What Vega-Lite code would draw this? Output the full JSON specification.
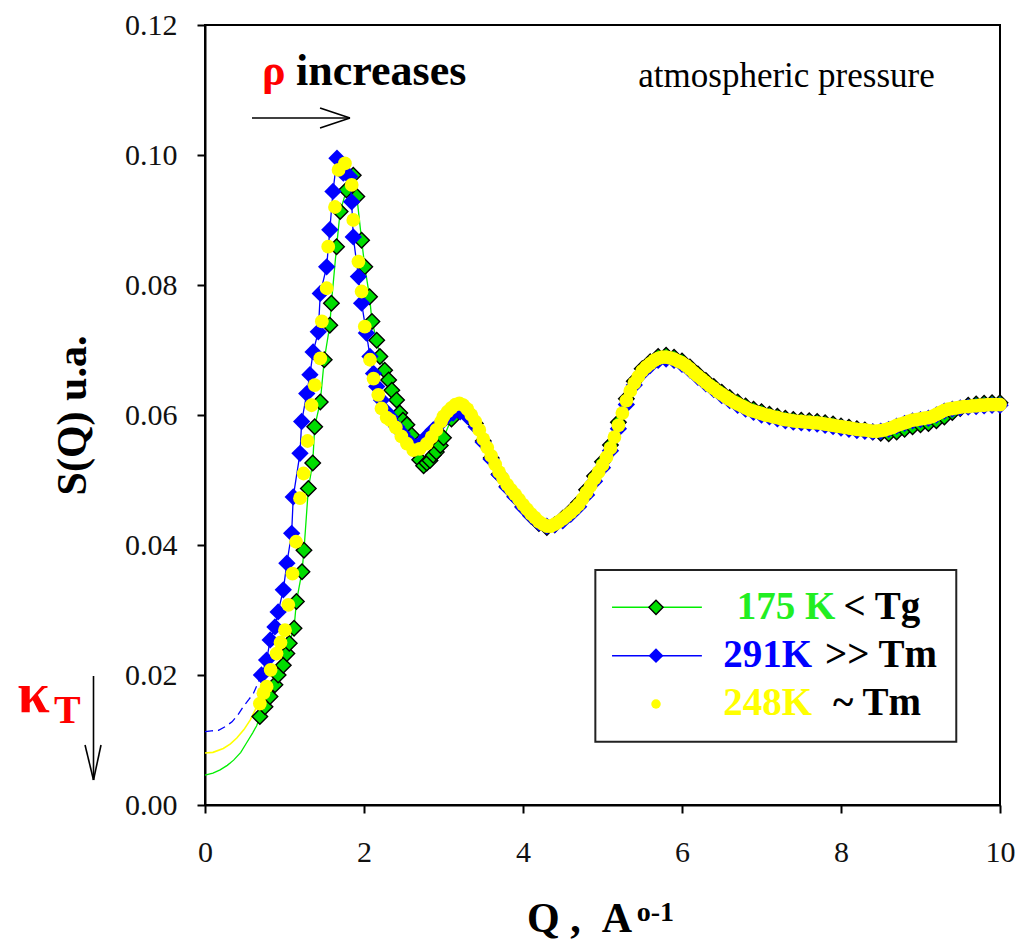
{
"$schema":"https://vega.github.io/schema/vega-lite/v6.json",
"width":795,"height":780,
"autosize":{"type":"none"},
"padding":{"left":205,"top":25,"right":17,"bottom":137},
"background":"white",
"config":{"view":{"stroke":"#000","strokeWidth":2},"text":{"font":"Liberation Serif"}},
"datasets":{
"ge":[{"q":0,"v":0.0046},{"q":0.1,"v":0.0049},{"q":0.19,"v":0.0054},{"q":0.28,"v":0.0061},{"q":0.36,"v":0.0069},{"q":0.45,"v":0.0081},{"q":0.52,"v":0.0095},{"q":0.6,"v":0.0111},{"q":0.65,"v":0.0122},{"q":0.69,"v":0.0136}],
"ye":[{"q":0,"v":0.008},{"q":0.1,"v":0.0081},{"q":0.23,"v":0.0087},{"q":0.32,"v":0.0094},{"q":0.4,"v":0.0103},{"q":0.49,"v":0.0116},{"q":0.57,"v":0.0131},{"q":0.65,"v":0.0151},{"q":0.69,"v":0.0156}],
"be":[{"q":0,"v":0.0113},{"q":0.08,"v":0.0114},{"q":0.17,"v":0.0115},{"q":0.26,"v":0.0121},{"q":0.34,"v":0.0128},{"q":0.41,"v":0.0138},{"q":0.48,"v":0.0151},{"q":0.55,"v":0.0162},{"q":0.61,"v":0.0172},{"q":0.71,"v":0.02}],
"g":[{"q":0.69,"v":0.0136},{"q":0.755,"v":0.0151},{"q":0.818,"v":0.0167},{"q":0.88,"v":0.0185},{"q":0.92,"v":0.02},{"q":0.985,"v":0.0215},{"q":1.03,"v":0.0233},{"q":1.06,"v":0.0249},{"q":1.12,"v":0.0272},{"q":1.15,"v":0.0313},{"q":1.22,"v":0.0359},{"q":1.245,"v":0.0392},{"q":1.3,"v":0.0487},{"q":1.355,"v":0.0526},{"q":1.38,"v":0.0582},{"q":1.45,"v":0.062},{"q":1.5,"v":0.0685},{"q":1.57,"v":0.0738},{"q":1.59,"v":0.0772},{"q":1.655,"v":0.0859},{"q":1.7,"v":0.0913},{"q":1.78,"v":0.0946},{"q":1.865,"v":0.0969},{"q":1.91,"v":0.0936},{"q":1.97,"v":0.0869},{"q":2.01,"v":0.0828},{"q":2.07,"v":0.0782},{"q":2.1,"v":0.0744},{"q":2.16,"v":0.0715},{"q":2.2,"v":0.069},{"q":2.26,"v":0.0669},{"q":2.31,"v":0.0654},{"q":2.35,"v":0.0638},{"q":2.41,"v":0.0623},{"q":2.45,"v":0.0603},{"q":2.49,"v":0.0592},{"q":2.54,"v":0.0585},{"q":2.6,"v":0.0569},{"q":2.65,"v":0.0545},{"q":2.7,"v":0.0531},{"q":2.75,"v":0.0522},{"q":2.79,"v":0.0526},{"q":2.83,"v":0.053},{"q":2.87,"v":0.0538},{"q":2.91,"v":0.0543},{"q":2.96,"v":0.0553},{"q":3.0,"v":0.0565},{"q":3.1,"v":0.0594},{"q":3.2,"v":0.0612},{"q":3.3,"v":0.0606},{"q":3.4,"v":0.0587},{"q":3.5,"v":0.056},{"q":3.6,"v":0.0534},{"q":3.7,"v":0.0509},{"q":3.8,"v":0.049},{"q":3.9,"v":0.0475},{"q":4.0,"v":0.0459},{"q":4.1,"v":0.0445},{"q":4.2,"v":0.0433},{"q":4.3,"v":0.0427},{"q":4.4,"v":0.0431},{"q":4.5,"v":0.0441},{"q":4.6,"v":0.0452},{"q":4.7,"v":0.0465},{"q":4.8,"v":0.0485},{"q":4.9,"v":0.0506},{"q":5.0,"v":0.0528},{"q":5.1,"v":0.0554},{"q":5.2,"v":0.0589},{"q":5.3,"v":0.0625},{"q":5.4,"v":0.0652},{"q":5.5,"v":0.0671},{"q":5.6,"v":0.0682},{"q":5.7,"v":0.069},{"q":5.8,"v":0.0692},{"q":5.9,"v":0.0689},{"q":6.0,"v":0.0683},{"q":6.1,"v":0.0674},{"q":6.2,"v":0.0663},{"q":6.3,"v":0.0653},{"q":6.4,"v":0.0644},{"q":6.5,"v":0.0635},{"q":6.6,"v":0.0627},{"q":6.7,"v":0.062},{"q":6.8,"v":0.0614},{"q":6.9,"v":0.0609},{"q":7.0,"v":0.0605},{"q":7.1,"v":0.0601},{"q":7.2,"v":0.0598},{"q":7.3,"v":0.0595},{"q":7.4,"v":0.0593},{"q":7.5,"v":0.0592},{"q":7.6,"v":0.0591},{"q":7.7,"v":0.059},{"q":7.8,"v":0.0588},{"q":7.9,"v":0.0586},{"q":8.0,"v":0.0583},{"q":8.1,"v":0.0581},{"q":8.2,"v":0.0579},{"q":8.3,"v":0.0577},{"q":8.4,"v":0.0574},{"q":8.5,"v":0.0572},{"q":8.6,"v":0.0571},{"q":8.7,"v":0.0574},{"q":8.8,"v":0.0578},{"q":8.9,"v":0.0582},{"q":9.0,"v":0.0585},{"q":9.1,"v":0.0587},{"q":9.2,"v":0.0591},{"q":9.3,"v":0.0597},{"q":9.4,"v":0.0604},{"q":9.5,"v":0.061},{"q":9.6,"v":0.0615},{"q":9.7,"v":0.0617},{"q":9.8,"v":0.0618},{"q":9.9,"v":0.0619},{"q":10.0,"v":0.0619}],
"b":[{"q":0.71,"v":0.02},{"q":0.775,"v":0.0223},{"q":0.82,"v":0.0254},{"q":0.88,"v":0.0274},{"q":0.92,"v":0.0297},{"q":0.985,"v":0.0331},{"q":1.03,"v":0.0372},{"q":1.09,"v":0.0418},{"q":1.11,"v":0.0474},{"q":1.195,"v":0.0541},{"q":1.216,"v":0.059},{"q":1.28,"v":0.0633},{"q":1.32,"v":0.0662},{"q":1.36,"v":0.0697},{"q":1.425,"v":0.0728},{"q":1.45,"v":0.0787},{"q":1.53,"v":0.0828},{"q":1.57,"v":0.0885},{"q":1.61,"v":0.0944},{"q":1.66,"v":0.0995},{"q":1.74,"v":0.0972},{"q":1.82,"v":0.0967},{"q":1.845,"v":0.0928},{"q":1.865,"v":0.0874},{"q":1.93,"v":0.0813},{"q":1.97,"v":0.0772},{"q":2.03,"v":0.0726},{"q":2.075,"v":0.069},{"q":2.12,"v":0.0664},{"q":2.16,"v":0.0644},{"q":2.22,"v":0.0623},{"q":2.28,"v":0.0605},{"q":2.33,"v":0.0597},{"q":2.41,"v":0.0582},{"q":2.48,"v":0.0572},{"q":2.54,"v":0.0562},{"q":2.6,"v":0.0555},{"q":2.66,"v":0.0551},{"q":2.72,"v":0.0557},{"q":2.79,"v":0.0567},{"q":2.87,"v":0.0577},{"q":2.96,"v":0.0587},{"q":3.04,"v":0.0597},{"q":3.12,"v":0.0603},{"q":3.21,"v":0.0605},{"q":3.3,"v":0.0598},{"q":3.41,"v":0.0582},{"q":3.5,"v":0.0558},{"q":3.6,"v":0.0532},{"q":3.7,"v":0.0508},{"q":3.8,"v":0.0489},{"q":3.9,"v":0.0474},{"q":4.0,"v":0.0458},{"q":4.1,"v":0.0445},{"q":4.2,"v":0.0434},{"q":4.3,"v":0.0429},{"q":4.4,"v":0.0431},{"q":4.5,"v":0.0437},{"q":4.6,"v":0.0447},{"q":4.7,"v":0.0459},{"q":4.8,"v":0.0477},{"q":4.9,"v":0.0498},{"q":5.0,"v":0.0519},{"q":5.1,"v":0.0545},{"q":5.2,"v":0.0579},{"q":5.3,"v":0.0616},{"q":5.4,"v":0.0646},{"q":5.5,"v":0.0665},{"q":5.6,"v":0.0676},{"q":5.7,"v":0.0684},{"q":5.8,"v":0.0686},{"q":5.9,"v":0.0684},{"q":6.0,"v":0.0678},{"q":6.1,"v":0.0669},{"q":6.2,"v":0.0658},{"q":6.3,"v":0.0648},{"q":6.4,"v":0.0639},{"q":6.5,"v":0.063},{"q":6.6,"v":0.0622},{"q":6.7,"v":0.0615},{"q":6.8,"v":0.0609},{"q":6.9,"v":0.0604},{"q":7.0,"v":0.06},{"q":7.1,"v":0.0597},{"q":7.2,"v":0.0594},{"q":7.3,"v":0.0591},{"q":7.4,"v":0.0589},{"q":7.5,"v":0.0588},{"q":7.6,"v":0.0587},{"q":7.7,"v":0.0586},{"q":7.8,"v":0.0584},{"q":7.9,"v":0.0582},{"q":8.0,"v":0.058},{"q":8.1,"v":0.0578},{"q":8.2,"v":0.0576},{"q":8.3,"v":0.0575},{"q":8.4,"v":0.0574},{"q":8.5,"v":0.0575},{"q":8.6,"v":0.0578},{"q":8.7,"v":0.0583},{"q":8.8,"v":0.0587},{"q":8.9,"v":0.0591},{"q":9.0,"v":0.0593},{"q":9.1,"v":0.0595},{"q":9.2,"v":0.06},{"q":9.3,"v":0.0606},{"q":9.4,"v":0.0609},{"q":9.5,"v":0.0611},{"q":9.6,"v":0.0612},{"q":9.7,"v":0.0613},{"q":9.8,"v":0.0614},{"q":9.9,"v":0.0615},{"q":10.0,"v":0.0615}],
"y":[{"q":0.69,"v":0.0156},{"q":0.735,"v":0.0172},{"q":0.775,"v":0.0182},{"q":0.826,"v":0.0208},{"q":0.9,"v":0.0233},{"q":0.95,"v":0.025},{"q":1.006,"v":0.0269},{"q":1.048,"v":0.0308},{"q":1.1,"v":0.0356},{"q":1.145,"v":0.0405},{"q":1.195,"v":0.0472},{"q":1.24,"v":0.051},{"q":1.29,"v":0.056},{"q":1.34,"v":0.0615},{"q":1.38,"v":0.0646},{"q":1.45,"v":0.0687},{"q":1.47,"v":0.0744},{"q":1.53,"v":0.0795},{"q":1.55,"v":0.0859},{"q":1.635,"v":0.092},{"q":1.68,"v":0.0977},{"q":1.76,"v":0.0987},{"q":1.845,"v":0.0954},{"q":1.865,"v":0.09},{"q":1.93,"v":0.0836},{"q":1.97,"v":0.079},{"q":2.01,"v":0.0736},{"q":2.075,"v":0.0685},{"q":2.12,"v":0.0656},{"q":2.18,"v":0.0631},{"q":2.22,"v":0.061},{"q":2.285,"v":0.0596},{"q":2.33,"v":0.0592},{"q":2.4,"v":0.0581},{"q":2.47,"v":0.0567},{"q":2.54,"v":0.0556},{"q":2.62,"v":0.0546},{"q":2.7,"v":0.0548},{"q":2.79,"v":0.0556},{"q":2.85,"v":0.0566},{"q":2.91,"v":0.0577},{"q":2.97,"v":0.059},{"q":3.0,"v":0.0598},{"q":3.05,"v":0.0605},{"q":3.1,"v":0.0611},{"q":3.15,"v":0.0616},{"q":3.2,"v":0.0618},{"q":3.25,"v":0.0615},{"q":3.3,"v":0.0609},{"q":3.35,"v":0.06},{"q":3.4,"v":0.059},{"q":3.45,"v":0.0577},{"q":3.5,"v":0.0563},{"q":3.55,"v":0.055},{"q":3.6,"v":0.0537},{"q":3.65,"v":0.0524},{"q":3.7,"v":0.0512},{"q":3.75,"v":0.0502},{"q":3.8,"v":0.0493},{"q":3.85,"v":0.0485},{"q":3.9,"v":0.0478},{"q":3.95,"v":0.047},{"q":4.0,"v":0.0462},{"q":4.05,"v":0.0455},{"q":4.1,"v":0.0448},{"q":4.15,"v":0.0442},{"q":4.2,"v":0.0436},{"q":4.25,"v":0.0432},{"q":4.3,"v":0.0429},{"q":4.35,"v":0.0429},{"q":4.4,"v":0.0432},{"q":4.45,"v":0.0436},{"q":4.5,"v":0.044},{"q":4.55,"v":0.0445},{"q":4.6,"v":0.045},{"q":4.65,"v":0.0456},{"q":4.7,"v":0.0462},{"q":4.75,"v":0.0471},{"q":4.8,"v":0.0481},{"q":4.85,"v":0.0491},{"q":4.9,"v":0.0502},{"q":4.95,"v":0.0512},{"q":5.0,"v":0.0523},{"q":5.05,"v":0.0535},{"q":5.1,"v":0.0549},{"q":5.15,"v":0.0566},{"q":5.2,"v":0.0584},{"q":5.25,"v":0.0603},{"q":5.3,"v":0.0622},{"q":5.35,"v":0.0637},{"q":5.4,"v":0.0649},{"q":5.45,"v":0.0659},{"q":5.5,"v":0.0668},{"q":5.55,"v":0.0674},{"q":5.6,"v":0.0679},{"q":5.65,"v":0.0684},{"q":5.7,"v":0.0687},{"q":5.75,"v":0.0689},{"q":5.8,"v":0.0689},{"q":5.85,"v":0.0688},{"q":5.9,"v":0.0686},{"q":5.95,"v":0.0683},{"q":6.0,"v":0.068},{"q":6.05,"v":0.0676},{"q":6.1,"v":0.0671},{"q":6.15,"v":0.0665},{"q":6.2,"v":0.066},{"q":6.25,"v":0.0655},{"q":6.3,"v":0.065},{"q":6.35,"v":0.0645},{"q":6.4,"v":0.0641},{"q":6.45,"v":0.0636},{"q":6.5,"v":0.0632},{"q":6.55,"v":0.0628},{"q":6.6,"v":0.0624},{"q":6.65,"v":0.062},{"q":6.7,"v":0.0617},{"q":6.75,"v":0.0614},{"q":6.8,"v":0.0611},{"q":6.85,"v":0.0608},{"q":6.9,"v":0.0606},{"q":6.95,"v":0.0604},{"q":7.0,"v":0.0602},{"q":7.05,"v":0.06},{"q":7.1,"v":0.0599},{"q":7.15,"v":0.0597},{"q":7.2,"v":0.0596},{"q":7.25,"v":0.0594},{"q":7.3,"v":0.0593},{"q":7.35,"v":0.0592},{"q":7.4,"v":0.0591},{"q":7.45,"v":0.059},{"q":7.5,"v":0.059},{"q":7.55,"v":0.0589},{"q":7.6,"v":0.0589},{"q":7.65,"v":0.0588},{"q":7.7,"v":0.0588},{"q":7.75,"v":0.0587},{"q":7.8,"v":0.0586},{"q":7.85,"v":0.0585},{"q":7.9,"v":0.0584},{"q":7.95,"v":0.0583},{"q":8.0,"v":0.0582},{"q":8.05,"v":0.0581},{"q":8.1,"v":0.058},{"q":8.15,"v":0.0579},{"q":8.2,"v":0.0578},{"q":8.25,"v":0.0577},{"q":8.3,"v":0.0577},{"q":8.35,"v":0.0576},{"q":8.4,"v":0.0575},{"q":8.45,"v":0.0575},{"q":8.5,"v":0.0576},{"q":8.55,"v":0.0577},{"q":8.6,"v":0.0579},{"q":8.65,"v":0.0581},{"q":8.7,"v":0.0584},{"q":8.75,"v":0.0586},{"q":8.8,"v":0.0588},{"q":8.85,"v":0.059},{"q":8.9,"v":0.0592},{"q":8.95,"v":0.0593},{"q":9.0,"v":0.0594},{"q":9.05,"v":0.0595},{"q":9.1,"v":0.0596},{"q":9.15,"v":0.0598},{"q":9.2,"v":0.0601},{"q":9.25,"v":0.0604},{"q":9.3,"v":0.0607},{"q":9.35,"v":0.0609},{"q":9.4,"v":0.061},{"q":9.45,"v":0.0611},{"q":9.5,"v":0.0612},{"q":9.55,"v":0.0613},{"q":9.6,"v":0.0613},{"q":9.65,"v":0.0614},{"q":9.7,"v":0.0614},{"q":9.75,"v":0.0615},{"q":9.8,"v":0.0615},{"q":9.85,"v":0.0616},{"q":9.9,"v":0.0616},{"q":9.95,"v":0.0616},{"q":10.0,"v":0.0616}]
},
"encoding":{
"x":{"field":"q","type":"quantitative","scale":{"domain":[0,10],"nice":false,"zero":false},
"axis":{"values":[0,2,4,6,8,10],"title":null,"grid":false,"domainColor":"#000","domainWidth":2,"tickColor":"#000","tickWidth":2,"tickSize":8,"labelFont":"Liberation Serif","labelFontSize":30,"labelColor":"#111","labelPadding":24,"labelFlush":false}},
"y":{"field":"v","type":"quantitative","scale":{"domain":[0,0.12],"nice":false,"zero":false},
"axis":{"values":[0,0.02,0.04,0.06,0.08,0.1,0.12],"format":".2f","grid":false,"domainColor":"#000","domainWidth":2,"tickColor":"#000","tickWidth":2,"tickSize":8,"labelFont":"Liberation Serif","labelFontSize":30,"labelColor":"#111","labelPadding":20,
"title":"S(Q) u.a.","titleFont":"Liberation Serif","titleFontSize":42,"titleFontWeight":"bold","titleColor":"#000","titleAngle":-90,"titleX":-133,"titleY":390,"titleAlign":"center","titleBaseline":"middle"}}
},
"layer":[
{"data":{"name":"ge"},"mark":{"type":"line","color":"#00ee00","strokeWidth":1.3},"encoding":{}},
{"data":{"name":"ye"},"mark":{"type":"line","color":"#ffff00","strokeWidth":1.6},"encoding":{}},
{"data":{"name":"be"},"mark":{"type":"line","color":"#0000ff","strokeWidth":1.3,"strokeDash":[8,5]},"encoding":{}},
{"data":{"name":"g"},"mark":{"type":"line","color":"#00ee00","strokeWidth":1.3},"encoding":{}},
{"data":{"name":"g"},"mark":{"type":"point","shape":"diamond","filled":true,"fill":"#00dd00","stroke":"#000","strokeWidth":1.4,"size":240,"opacity":1},"encoding":{}},
{"data":{"name":"b"},"mark":{"type":"line","color":"#0000ff","strokeWidth":1.3},"encoding":{}},
{"data":{"name":"b"},"mark":{"type":"point","shape":"diamond","filled":true,"fill":"#0000ff","size":300,"opacity":1},"encoding":{}},
{"data":{"name":"y"},"mark":{"type":"point","shape":"circle","filled":true,"fill":"#ffff00","size":190,"opacity":1},"encoding":{}},
{"data":{"values":[{"q":4.91,"v":0.03615,"q2":9.45,"v2":0.00974}]},"mark":{"type":"rect","fill":"#fff","stroke":"#222","strokeWidth":2},"encoding":{"x2":{"field":"q2"},"y2":{"field":"v2"}}},
{"data":{"values":[{"q":5.12,"v":0.03041,"q2":6.25,"v2":0.03041}]},"mark":{"type":"rule","color":"#00ee00","strokeWidth":1.5},"encoding":{"x2":{"field":"q2"},"y2":{"field":"v2"}}},
{"data":{"values":[{"q":5.12,"v":0.02297,"q2":6.25,"v2":0.02297}]},"mark":{"type":"rule","color":"#0000ff","strokeWidth":1.5},"encoding":{"x2":{"field":"q2"},"y2":{"field":"v2"}}},
{"data":{"values":[{"q":5.673,"v":0.03041}]},"mark":{"type":"point","shape":"diamond","filled":true,"fill":"#00dd00","stroke":"#000","strokeWidth":1.4,"size":200,"opacity":1},"encoding":{}},
{"data":{"values":[{"q":5.673,"v":0.02297}]},"mark":{"type":"point","shape":"diamond","filled":true,"fill":"#0000ff","size":220,"opacity":1},"encoding":{}},
{"data":{"values":[{"q":5.673,"v":0.01554}]},"mark":{"type":"point","shape":"circle","filled":true,"fill":"#ffff00","size":90,"opacity":1},"encoding":{}},
{"data":{"values":[{"q":6.688,"v":0.02857,"t":"175 K"}]},"mark":{"type":"text","align":"left","baseline":"alphabetic","font":"Liberation Serif","fontWeight":"bold","fontSize":39,"color":"#22ee22"},"encoding":{"text":{"field":"t"}}},
{"data":{"values":[{"q":8.03,"v":0.02857,"t":"< Tg"}]},"mark":{"type":"text","align":"left","baseline":"alphabetic","font":"Liberation Serif","fontWeight":"bold","fontSize":39,"color":"#000"},"encoding":{"text":{"field":"t"}}},
{"data":{"values":[{"q":6.52,"v":0.02128,"t":"291K"}]},"mark":{"type":"text","align":"left","baseline":"alphabetic","font":"Liberation Serif","fontWeight":"bold","fontSize":39,"color":"#0000ff"},"encoding":{"text":{"field":"t"}}},
{"data":{"values":[{"q":7.8,"v":0.02128,"t":">> Tm"}]},"mark":{"type":"text","align":"left","baseline":"alphabetic","font":"Liberation Serif","fontWeight":"bold","fontSize":39,"color":"#000"},"encoding":{"text":{"field":"t"}}},
{"data":{"values":[{"q":6.52,"v":0.01385,"t":"248K"}]},"mark":{"type":"text","align":"left","baseline":"alphabetic","font":"Liberation Serif","fontWeight":"bold","fontSize":39,"color":"#ffff00"},"encoding":{"text":{"field":"t"}}},
{"data":{"values":[{"q":7.9,"v":0.01385,"t":"~ Tm"}]},"mark":{"type":"text","align":"left","baseline":"alphabetic","font":"Liberation Serif","fontWeight":"bold","fontSize":39,"color":"#000"},"encoding":{"text":{"field":"t"}}},
{"data":{"values":[{"q":0.717,"v":0.11077,"t":"ρ"}]},"mark":{"type":"text","align":"left","baseline":"alphabetic","font":"Liberation Serif","fontWeight":"bold","fontSize":44,"color":"#ff0000"},"encoding":{"text":{"field":"t"}}},
{"data":{"values":[{"q":1.145,"v":0.11077,"t":"increases"}]},"mark":{"type":"text","align":"left","baseline":"alphabetic","font":"Liberation Serif","fontWeight":"bold","fontSize":44,"color":"#000"},"encoding":{"text":{"field":"t"}}},
{"data":{"values":[{"q":5.45,"v":0.11046,"t":"atmospheric pressure"}]},"mark":{"type":"text","align":"left","baseline":"alphabetic","font":"Liberation Serif","fontSize":35,"color":"#000"},"encoding":{"text":{"field":"t"}}},
{"data":{"values":[{"q":-2.36,"v":0.0143,"t":"κ"}]},"mark":{"type":"text","align":"left","baseline":"alphabetic","font":"Liberation Serif","fontWeight":"bold","fontSize":58,"color":"#ff0000"},"encoding":{"text":{"field":"t"}}},
{"data":{"values":[{"q":-1.9,"v":0.01262,"t":"T"}]},"mark":{"type":"text","align":"left","baseline":"alphabetic","font":"Liberation Serif","fontWeight":"bold","fontSize":40,"color":"#ff0000"},"encoding":{"text":{"field":"t"}}},
{"data":{"values":[{"q":4.05,"v":-0.01954,"t":"Q ,\u00a0\u00a0A"}]},"mark":{"type":"text","align":"left","baseline":"alphabetic","font":"Liberation Serif","fontWeight":"bold","fontSize":42,"color":"#000"},"encoding":{"text":{"field":"t"}}},
{"data":{"values":[{"q":5.43,"v":-0.01785,"t":"o-1"}]},"mark":{"type":"text","align":"left","baseline":"alphabetic","font":"Liberation Serif","fontWeight":"bold","fontSize":28,"color":"#000"},"encoding":{"text":{"field":"t"}}},
{"data":{"values":[{"q":0.591,"v":0.10569,"q2":1.824,"v2":0.10569},{"q":1.447,"v":0.10723,"q2":1.824,"v2":0.10569},{"q":1.447,"v":0.10415,"q2":1.824,"v2":0.10569},{"q":-1.4025,"v":0.01985,"q2":-1.4025,"v2":0.00385},{"q":-1.509,"v":0.00923,"q2":-1.4025,"v2":0.00385},{"q":-1.308,"v":0.00923,"q2":-1.4025,"v2":0.00385}]},"mark":{"type":"rule","color":"#000","strokeWidth":1.6},"encoding":{"x2":{"field":"q2"},"y2":{"field":"v2"}}}
]
}
